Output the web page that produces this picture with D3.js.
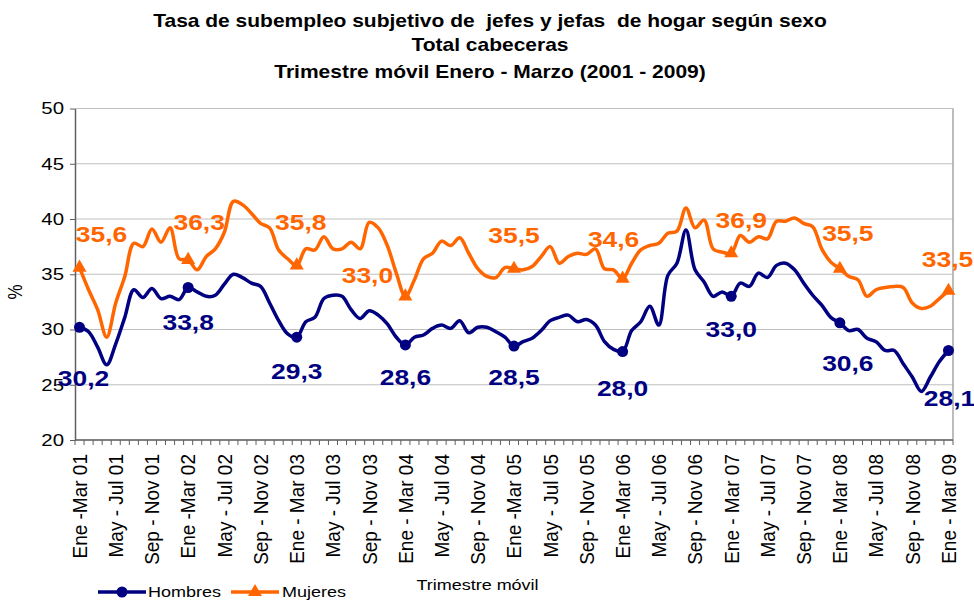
<!DOCTYPE html>
<html>
<head>
<meta charset="utf-8">
<script src="https://cdn.jsdelivr.net/npm/d3@7"></script>
<style>
  html, body { margin: 0; padding: 0; background: #fff; }
  svg { display: block; font-family: Arial, "Liberation Sans", sans-serif; }
</style>
</head>
<body>
<svg id="chart" width="974" height="600"></svg>
<script>
// ---------------- DATA ----------------
const titleLines = [
  "Tasa de subempleo subjetivo de  jefes y jefas  de hogar según sexo",
  "Total cabeceras",
  "Trimestre móvil Enero - Marzo (2001 - 2009)"
];

const trimesters = ["Ene - Mar","Feb - Abr","Mar - May","Abr - Jun","May - Jul","Jun - Ago",
                    "Jul - Sep","Ago - Oct","Sep - Nov","Oct - Dic","Nov - Ene","Dic - Feb"];
const years = ["01","02","03","04","05","06","07","08","09"];

const tickLabels = [
  "Ene -Mar 01","May - Jul 01","Sep - Nov 01",
  "Ene -Mar 02","May - Jul 02","Sep - Nov 02",
  "Ene - Mar 03","May - Jul 03","Sep - Nov 03",
  "Ene - Mar 04","May - Jul 04","Sep - Nov 04",
  "Ene -Mar 05","May - Jul 05","Sep - Nov 05",
  "Ene -Mar 06","May - Jul 06","Sep - Nov 06",
  "Ene - Mar 07","May - Jul 07","Sep - Nov 07",
  "Ene - Mar 08","May - Jul 08","Sep - Nov 08",
  "Ene - Mar 09"
];

const hombres = [
  30.2, 29.8, 28.4, 26.8, 28.7, 31.1, 33.6, 32.9, 33.7, 32.8, 33.0, 32.7,
  33.8, 33.4, 33.0, 33.1, 34.1, 35.0, 34.7, 34.2, 33.9, 32.4, 30.8, 29.6,
  29.3, 30.7, 31.1, 32.8, 33.1, 33.0, 31.8, 31.0, 31.7, 31.3, 30.5, 29.3,
  28.6, 29.3, 29.5, 30.1, 30.4, 30.1, 30.8, 29.7, 30.2, 30.2, 29.8, 29.3,
  28.5, 28.9, 29.2, 29.9, 30.8, 31.1, 31.3, 30.7, 30.9, 30.4, 28.9, 28.2,
  28.0, 29.9, 30.7, 32.1, 30.4, 34.9, 36.0, 39.0, 35.4, 34.3, 33.0, 33.4,
  33.0, 34.2, 33.9, 35.1, 34.7, 35.8, 36.0, 35.4, 34.2, 33.1, 32.2, 31.1,
  30.6, 29.9, 30.0, 29.2, 28.9, 28.1, 28.1, 26.9, 25.7, 24.4, 25.7, 27.1,
  28.1
];

const mujeres = [
  35.6, 33.6, 31.8, 29.3, 32.4, 34.8, 37.8, 37.5, 39.1, 37.9, 39.2, 36.4,
  36.3, 35.4, 36.6, 37.3, 38.8, 41.6, 41.3, 40.5, 39.6, 39.2, 37.2, 36.4,
  35.8, 37.3, 37.2, 38.4, 37.3, 37.3, 37.9, 37.3, 39.7, 39.2, 37.6, 35.1,
  33.0, 34.5, 36.4, 36.9, 38.0, 37.6, 38.3, 36.9, 35.5, 34.8, 34.7, 35.6,
  35.5, 35.4, 35.7, 36.6, 37.5, 36.0, 36.6, 36.9, 36.8, 37.3, 35.5, 35.4,
  34.6, 36.0, 37.2, 37.6, 37.8, 38.7, 38.9, 41.0, 39.2, 39.9, 37.3, 37.0,
  36.9, 38.5, 37.9, 38.4, 38.2, 39.8, 39.8, 40.1, 39.6, 39.3, 37.3, 36.1,
  35.5, 34.8, 34.5, 33.0, 33.6, 33.8, 33.9, 33.8, 32.4, 31.9, 32.1, 32.8,
  33.5
];

const yTicks = [20, 25, 30, 35, 40, 45, 50];

// category names built from the rolling-quarter pattern
const categories = hombres.map((_, i) => trimesters[i % 12] + " " + years[Math.floor(i / 12)]);

// ---------------- STYLE ----------------
const SX = 1.2;                       // horizontal text stretch seen in reference
const colH = "#000080", colM = "#FF6600";
const plot = { left: 75, right: 953, top: 108.5, bottom: 440 };
const labelEvery = 12;                // labelled points (Ene - Mar of every year)
const labelOffH = [[4,51],[0,35],[0,34],[0,32],[0,31],[0,36],[0,33],[8,40],[1,48]];
const labelOffM = [[22,-34],[11,-37.5],[4,-43],[-38,-21],[0,-34],[-9,-40],[10,-33.5],[8,-35.5],[-1,-31.5]];

const svg = d3.select("#chart");

const x = d3.scalePoint().domain(categories).range([plot.left, plot.right]).padding(0.5);
const y = d3.scaleLinear().domain([20, 50]).range([plot.bottom, plot.top]);
const step = x.step();

function sText(g, px, py, txt, size, opts = {}) {
  const sx = opts.sx || SX;
  return g.append("text")
    .attr("transform", `translate(${px},${py}) scale(${sx},1)` + (opts.rotate ? ` rotate(${opts.rotate})` : ""))
    .attr("text-anchor", opts.anchor || "middle")
    .attr("dy", opts.dy || "0.36em")
    .attr("font-size", size)
    .attr("font-weight", opts.bold ? "bold" : "normal")
    .attr("fill", opts.fill || "#000")
    .attr("xml:space", "preserve")
    .style("white-space", "pre")
    .text(txt);
}

// Title
const titleY = [21, 45, 72];
titleLines.forEach((t, i) => sText(svg, 490, titleY[i], t, 17.5, { bold: true }));

// gridlines
svg.append("g").selectAll("line").data(yTicks).join("line")
  .attr("x1", plot.left).attr("x2", plot.right)
  .attr("y1", d => y(d)).attr("y2", d => y(d))
  .attr("stroke", "#c0c0c0").attr("stroke-width", 1);

// right border
svg.append("line").attr("x1", plot.right).attr("x2", plot.right)
  .attr("y1", plot.top).attr("y2", plot.bottom)
  .attr("stroke", "#a6a6a6").attr("stroke-width", 1.5);

// Y axis
const yAxisG = svg.append("g").attr("transform", `translate(${plot.left},0)`)
  .call(d3.axisLeft(y).tickValues(yTicks).tickSize(5).tickSizeOuter(0).tickFormat(d3.format("d")));
yAxisG.select(".domain").attr("stroke", "#606060").attr("stroke-width", 1.5);
yAxisG.selectAll(".tick line").attr("stroke", "#606060");
yAxisG.selectAll(".tick text").remove();
yTicks.forEach(v => sText(svg, 64, y(v), String(v), 17, { anchor: "end", dy: "0.35em" }));

// Y axis label
sText(svg, 15, 292, "%", 17, { rotate: -90 });

// X axis
svg.append("line").attr("x1", plot.left).attr("x2", plot.right)
  .attr("y1", plot.bottom).attr("y2", plot.bottom)
  .attr("stroke", "#606060").attr("stroke-width", 1.5);
const boundaries = categories.map((c, i) => x(c) - step / 2).concat([x(categories[categories.length - 1]) + step / 2]);
svg.append("g").selectAll("line").data(boundaries).join("line")
  .attr("x1", d => d).attr("x2", d => d)
  .attr("y1", plot.bottom).attr("y2", plot.bottom + 5)
  .attr("stroke", "#606060").attr("stroke-width", 1);

const tickCats = categories.filter((c, i) => i % 4 === 0);
const xLabG = svg.append("g");
tickCats.forEach((c, k) => {
  sText(xLabG, x(c), plot.bottom + 14, tickLabels[k], 19, { anchor: "end", rotate: -90, dy: "0.35em", sx: 1.1 });
});

// X axis title
sText(svg, 477.5, 585, "Trimestre móvil", 15);

// Lines
const line = d3.line().x((d, i) => x(categories[i])).y(d => y(d)).curve(d3.curveCatmullRom.alpha(0.5));

svg.append("path").datum(mujeres).attr("d", line)
  .attr("fill", "none").attr("stroke", colM).attr("stroke-width", 3.5).attr("stroke-linejoin", "round");
svg.append("path").datum(hombres).attr("d", line)
  .attr("fill", "none").attr("stroke", colH).attr("stroke-width", 3.5).attr("stroke-linejoin", "round");

const labIdx = categories.map((c, i) => i).filter(i => i % labelEvery === 0);
const tri = d3.symbol().type(d3.symbolTriangle).size(85);

svg.append("g").selectAll("path").data(labIdx).join("path")
  .attr("d", tri).attr("fill", colM)
  .attr("transform", i => `translate(${x(categories[i])},${y(mujeres[i])})`);
svg.append("g").selectAll("circle").data(labIdx).join("circle")
  .attr("cx", i => x(categories[i])).attr("cy", i => y(hombres[i])).attr("r", 5.5).attr("fill", colH);

const fmt = v => d3.format(".1f")(v).replace(".", ",");
labIdx.forEach((i, k) => {
  sText(svg, x(categories[i]) + labelOffM[k][0], y(mujeres[i]) + labelOffM[k][1], fmt(mujeres[i]), 22, { bold: true, fill: colM });
  sText(svg, x(categories[i]) + labelOffH[k][0], y(hombres[i]) + labelOffH[k][1], fmt(hombres[i]), 22, { bold: true, fill: colH });
});

// Legend
const leg = svg.append("g");
const legY = 592;
leg.append("line").attr("x1", 98).attr("x2", 146).attr("y1", legY).attr("y2", legY).attr("stroke", colH).attr("stroke-width", 3.5);
leg.append("circle").attr("cx", 122).attr("cy", legY).attr("r", 5.5).attr("fill", colH);
sText(leg, 148, legY, "Hombres", 15, { anchor: "start" });
leg.append("line").attr("x1", 231).attr("x2", 279).attr("y1", legY).attr("y2", legY).attr("stroke", colM).attr("stroke-width", 3.5);
leg.append("path").attr("d", tri).attr("fill", colM).attr("transform", `translate(255,${legY})`);
sText(leg, 282, legY, "Mujeres", 15, { anchor: "start" });
</script>
</body>
</html>
